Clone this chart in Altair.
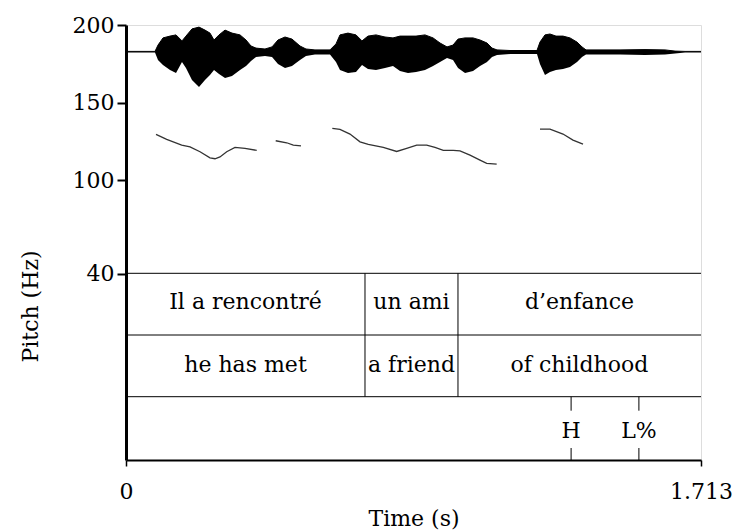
import altair as alt
import pandas as pd

# ---------------- data ----------------
# Pitch contour (voiced stretches), time in s, F0 in Hz
seg1_t = [0.0894, 0.1212, 0.1659, 0.1907, 0.2205, 0.2502, 0.2651, 0.2800, 0.3000, 0.3247, 0.3545, 0.3894]
seg1_hz = [129.6, 126.4, 122.7, 121.6, 118.4, 114.5, 113.9, 115.1, 118.4, 121.2, 120.6, 119.3]
seg2_t = [0.4460, 0.4787, 0.4984, 0.5213]
seg2_hz = [125.5, 124.2, 122.7, 122.2]
seg3_t = [0.6146, 0.6375, 0.6673, 0.6971, 0.7218, 0.7665, 0.8064, 0.8362, 0.8660, 0.8958,
          0.9205, 0.9453, 0.9751, 0.9950, 1.0248, 1.0546, 1.0746, 1.1043]
seg3_hz = [133.4, 132.8, 129.8, 124.8, 123.1, 121.2, 118.6, 120.6, 122.7, 122.7,
           121.2, 119.3, 119.3, 119.0, 116.2, 113.0, 110.9, 110.4]
seg4_t = [1.2333, 1.2631, 1.3019, 1.3316, 1.3615]
seg4_hz = [133.0, 133.0, 129.8, 125.9, 123.3]

# Waveform envelope (relative amplitude)
wave_t = [0, 0.0864, 0.0953, 0.1102, 0.1311, 0.1490, 0.1668, 0.1787, 0.1966, 0.2175, 0.2353,
          0.2502, 0.2622, 0.2771, 0.2950, 0.3158, 0.3397, 0.3575, 0.3724, 0.3873, 0.4141,
          0.4350, 0.4528, 0.4737, 0.4945, 0.5184, 0.5362, 0.5630, 0.6077, 0.6256, 0.6375,
          0.6613, 0.6852, 0.7031, 0.7209, 0.7448, 0.7716, 0.7954, 0.8163, 0.8401, 0.8640,
          0.8908, 0.9147, 0.9355, 0.9563, 0.9742, 0.9891, 1.0100, 1.0338, 1.0547, 1.0755,
          1.0904, 1.1053, 1.1440, 1.2244, 1.2333, 1.2482, 1.2631, 1.2810, 1.3019, 1.3227,
          1.3436, 1.3585, 1.3704, 1.4717, 1.5462, 1.6058, 1.6356, 1.6654, 1.7130]
wave_top = [0.02, 0.02, 0.23, 0.47, 0.53, 0.57, 0.37, 0.53, 0.77, 0.83, 0.73,
            0.63, 0.40, 0.57, 0.73, 0.63, 0.57, 0.40, 0.20, 0.13, 0.10,
            0.17, 0.40, 0.50, 0.43, 0.20, 0.10, 0.07, 0.07, 0.27, 0.57,
            0.63, 0.57, 0.37, 0.53, 0.57, 0.50, 0.47, 0.53, 0.53, 0.53,
            0.57, 0.47, 0.30, 0.17, 0.23, 0.43, 0.47, 0.47, 0.40, 0.30,
            0.13, 0.07, 0.05, 0.05, 0.33, 0.57, 0.60, 0.53, 0.53, 0.47,
            0.33, 0.17, 0.07, 0.07, 0.08, 0.07, 0.03, 0.02, 0.02]
wave_bot = [-0.02, -0.02, -0.27, -0.43, -0.60, -0.70, -0.33, -0.53, -0.93, -1.17, -0.93,
            -0.77, -0.60, -0.73, -0.87, -0.80, -0.60, -0.47, -0.30, -0.17, -0.13,
            -0.17, -0.40, -0.53, -0.47, -0.27, -0.13, -0.08, -0.08, -0.33, -0.60,
            -0.70, -0.67, -0.43, -0.57, -0.60, -0.53, -0.47, -0.63, -0.70, -0.67,
            -0.60, -0.47, -0.33, -0.20, -0.27, -0.53, -0.70, -0.63, -0.47, -0.33,
            -0.17, -0.10, -0.07, -0.07, -0.40, -0.77, -0.67, -0.60, -0.57, -0.50,
            -0.33, -0.17, -0.08, -0.08, -0.10, -0.08, -0.05, -0.02, -0.02]

# Text tiers
word_start = [0.0, 0.712, 0.989]
word_end = [0.712, 0.989, 1.713]
words_fr = ["Il a rencontré", "un ami", "d\u2019enfance"]
words_en = ["he has met", "a friend", "of childhood"]
boundaries = [0.712, 0.989]
tone_t = [1.326, 1.528]
tone_labels = ["H", "L%"]

T_END = 1.713

# ---------------- layout ----------------
W, H = 575, 435
FONT = "DejaVu Serif"
FS = 22
TIER1_TOP, TIER2_TOP, TIER3_TOP = 248.3, 310.0, 371.7

rows = []
for sid, (ts, hs) in enumerate([(seg1_t, seg1_hz), (seg2_t, seg2_hz), (seg3_t, seg3_hz), (seg4_t, seg4_hz)]):
    for t, h in zip(ts, hs):
        rows.append({"seg": sid, "t": t, "hz": h})
pitch_df = pd.DataFrame(rows)
wave_df = pd.DataFrame({"t": wave_t, "top": wave_top, "bot": wave_bot})
words_df = pd.DataFrame({"start": word_start, "end": word_end, "fr": words_fr, "en": words_en})
bound_df = pd.DataFrame({"t": boundaries})
tone_df = pd.DataFrame({"t": tone_t, "label": tone_labels})

xscale = alt.Scale(domain=[0, T_END], nice=False, zero=False)
xaxis = alt.Axis(values=[0, T_END], labelExpr="datum.value == 0 ? '0' : format(datum.value, '.3f')",
                 title="Time (s)", tickSize=6, tickWidth=1.5, domainWidth=2, domainColor="black",
                 tickColor="black", labelFlush=False, labelFont=FONT, labelFontSize=FS,
                 labelColor="black", labelBaseline="alphabetic", labelPadding=32,
                 titleFont=FONT, titleFontSize=FS, titleFontWeight="normal", titleColor="black",
                 titleBaseline="alphabetic", titleY=65, grid=False)
yaxis = alt.Axis(values=[40, 100, 150, 200], title="Pitch (Hz)", tickSize=9, tickWidth=2,
                 domainWidth=3, domainColor="black", tickColor="black", labelFont=FONT,
                 labelFontSize=FS, labelColor="black", labelPadding=3, titleFont=FONT,
                 titleFontSize=FS, titleFontWeight="normal", titleColor="black",
                 titleBaseline="alphabetic", titleX=-89, titleY=281, titleAngle=-90, grid=False)

pitch = alt.Chart(pitch_df).mark_line(color="#333333", strokeWidth=1.3).encode(
    x=alt.X("t:Q", scale=xscale, axis=xaxis),
    y=alt.Y("hz:Q", scale=alt.Scale(domain=[-80, 200], nice=False, zero=False), axis=yaxis),
    detail="seg:N",
)

wave = alt.Chart(wave_df).mark_area(color="black", opacity=1, line={"color": "black", "strokeWidth": 1}).encode(
    x=alt.X("t:Q", scale=xscale),
    y=alt.Y("top:Q", scale=alt.Scale(domain=[-1, 1], range=[57, -3], nice=False, zero=False), axis=None),
    y2="bot:Q",
)

def hline(ypix):
    return alt.Chart(pd.DataFrame({"a": [0]})).mark_rule(color="black", strokeWidth=1).encode(
        y=alt.value(ypix), x=alt.value(0), x2=alt.value(W))

bounds = alt.Chart(bound_df).mark_rule(color="black", strokeWidth=1).encode(
    x=alt.X("t:Q", scale=xscale), y=alt.value(TIER1_TOP), y2=alt.value(TIER3_TOP))

tone_ticks_top = alt.Chart(tone_df).mark_rule(color="black", strokeWidth=1).encode(
    x=alt.X("t:Q", scale=xscale), y=alt.value(TIER3_TOP), y2=alt.value(TIER3_TOP + 14))
tone_ticks_bot = alt.Chart(tone_df).mark_rule(color="black", strokeWidth=1).encode(
    x=alt.X("t:Q", scale=xscale), y=alt.value(H - 12), y2=alt.value(H))

text_style = dict(font=FONT, fontSize=FS, color="black", baseline="alphabetic", align="center")

fr_text = alt.Chart(words_df).transform_calculate(mid="(datum.start + datum.end) / 2").mark_text(**text_style).encode(
    x=alt.X("mid:Q", scale=xscale), y=alt.value(TIER1_TOP + 36), text="fr:N")
en_text = alt.Chart(words_df).transform_calculate(mid="(datum.start + datum.end) / 2").mark_text(**text_style).encode(
    x=alt.X("mid:Q", scale=xscale), y=alt.value(TIER2_TOP + 37), text="en:N")
tone_text = alt.Chart(tone_df).mark_text(**text_style).encode(
    x=alt.X("t:Q", scale=xscale), y=alt.value(TIER3_TOP + 41), text="label:N")

chart = alt.layer(
    pitch, wave, hline(TIER1_TOP), hline(TIER2_TOP), hline(TIER3_TOP),
    bounds, tone_ticks_top, tone_ticks_bot, fr_text, en_text, tone_text,
).resolve_scale(y="independent").properties(
    width=W, height=H,
    autosize=alt.AutoSizeParams(type="none"),
    padding={"left": 126, "top": 25, "right": 32, "bottom": 71},
).configure_view(stroke="black", strokeWidth=2).configure(background="white")

chart.save("out.html", embed_options={"renderer": "svg", "actions": False})
